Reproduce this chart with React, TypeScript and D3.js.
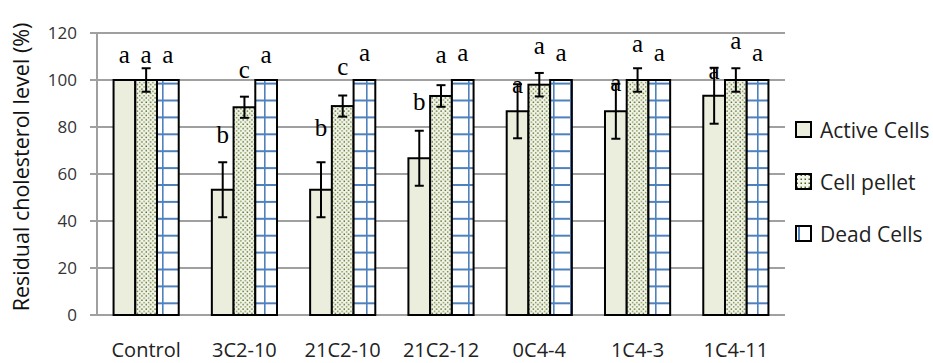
import React from 'react';
import * as d3 from 'd3';

const categories = ['Control', '3C2-10', '21C2-10', '21C2-12', '0C4-4', '1C4-3', '1C4-11'];
const seriesNames = ['Active Cells', 'Cell pellet', 'Dead Cells'];
const activeCells = [100, 53.3, 53.3, 66.7, 86.7, 86.7, 93.3];
const activeErr = [0, 11.7, 11.7, 11.7, 11.5, 11.7, 11.9];
const cellPellet = [100, 88.4, 88.9, 93.2, 98.0, 100, 100];
const pelletErr = [5, 4.5, 4.5, 4.6, 5, 5, 5];
const deadCells = [100, 100, 100, 100, 100, 100, 100];
const deadErr = [0, 0, 0, 0, 0, 0, 0];
const activeLetters = ['a', 'b', 'b', 'b', 'a', 'a', 'a'];
const pelletLetters = ['a', 'c', 'c', 'a', 'a', 'a', 'a'];
const deadLetters = ['a', 'a', 'a', 'a', 'a', 'a', 'a'];
// letter heights in data units (%)
const activeLetterAt = [109.8, 75.7, 78.7, 90, 96.9, 97.9, 102.8];
const pelletLetterAt = [109.8, 103.4, 104.7, 110, 113.5, 114.5, 115.6];
const deadLetterAt = [109.8, 109.8, 110.6, 110.6, 110.6, 110.6, 110.6];
const yTicks = [0, 20, 40, 60, 80, 100, 120];

const W = 933, H = 363;
const M = { left: 97, right: 785, top: 33, bottom: 315 };
const SANS = '"Open Sans", "Noto Sans", sans-serif';
const SERIF = '"Liberation Serif", "DejaVu Serif", serif';

export default function App() {
  const y = d3.scaleLinear().domain([0, 120]).range([M.bottom, M.top]);
  const x = d3.scaleBand().domain(categories).range([M.left, M.right]).paddingInner(0).paddingOuter(0);
  const bw = x.bandwidth() * 0.221;
  const sub = d3.scaleBand().domain(seriesNames).range([-1.5 * bw, 1.5 * bw]);

  const series = [
    { name: seriesNames[0], vals: activeCells, err: activeErr, letters: activeLetters, at: activeLetterAt, fill: '#EBEEDC' },
    { name: seriesNames[1], vals: cellPellet, err: pelletErr, letters: pelletLetters, at: pelletLetterAt, fill: 'url(#dots)' },
    { name: seriesNames[2], vals: deadCells, err: deadErr, letters: deadLetters, at: deadLetterAt, fill: 'url(#grid)' },
  ];

  const legendFill = ['#EBEEDC', 'url(#dotsL)', '#fff'];

  return (
    <svg width={W} height={H} style={{ position: 'absolute', left: 0, top: 0, background: '#fff' }}>
      <defs>
        <pattern id="dots" patternUnits="userSpaceOnUse" width={4.4} height={4.4}>
          <rect width={4.4} height={4.4} fill="#F3F5EA" />
          <rect x={0.4} y={0.4} width={1.4} height={1.4} fill="#4F6228" />
          <rect x={2.6} y={2.6} width={1.4} height={1.4} fill="#76923C" />
        </pattern>
        <pattern id="dotsL" patternUnits="userSpaceOnUse" width={4} height={4}>
          <rect width={4} height={4} fill="#F3F5EA" />
          <rect x={0.5} y={0.5} width={1.5} height={1.5} fill="#4F6228" />
        </pattern>
        <pattern id="grid" patternUnits="userSpaceOnUse" width={17} height={16.9} x={9} y={15}>
          <rect width={17} height={16.9} fill="#fff" />
          <rect x={0} y={0} width={17} height={2} fill="#4F81BD" />
          <rect x={0} y={0} width={1.6} height={16.9} fill="#4F81BD" />
        </pattern>
      </defs>

      {/* gridlines */}
      {yTicks.map(t => (
        <line key={t} x1={M.left - 7} x2={M.right} y1={y(t)} y2={y(t)} stroke="#A0A0A0" strokeWidth={2} />
      ))}
      <line x1={M.left} x2={M.left} y1={M.top} y2={M.bottom} stroke="#A0A0A0" strokeWidth={2} />

      {/* tick labels */}
      {yTicks.map(t => (
        <text key={t} x={77} y={y(t) + 6} textAnchor="end" fontFamily={SANS} fontSize={17} fill="#333">{t}</text>
      ))}

      {/* y title */}
      <text transform={`translate(28.5,${(M.top + M.bottom) / 2 - 7}) rotate(-90)`} textAnchor="middle" fontFamily={SANS} fontSize={21.5} fill="#111">
        Residual cholesterol level (%)
      </text>

      {/* bars */}
      {series.map(s => (
        <g key={s.name}>
          {categories.map((c, i) => {
            const cx = x(c)! + x.bandwidth() / 2 + sub(s.name)!;
            return (
              <rect key={c} x={cx} y={y(s.vals[i])} width={sub.bandwidth()} height={y(0) - y(s.vals[i])}
                fill={s.fill} stroke="#000" strokeWidth={2} />
            );
          })}
        </g>
      ))}

      {/* error bars */}
      {series.map(s => (
        <g key={s.name + 'e'} stroke="#000" strokeWidth={2}>
          {categories.map((c, i) => {
            if (!s.err[i]) return null;
            const cx = x(c)! + x.bandwidth() / 2 + sub(s.name)! + sub.bandwidth() / 2;
            const y1 = y(s.vals[i] + s.err[i]);
            const y2 = y(s.vals[i] - s.err[i]);
            return (
              <g key={c}>
                <line x1={cx} x2={cx} y1={y1} y2={y2} />
                <line x1={cx - 4.5} x2={cx + 4.5} y1={y1} y2={y1} />
                <line x1={cx - 4.5} x2={cx + 4.5} y1={y2} y2={y2} />
              </g>
            );
          })}
        </g>
      ))}

      {/* letters */}
      {series.map(s => (
        <g key={s.name + 'l'}>
          {categories.map((c, i) => {
            const cx = x(c)! + x.bandwidth() / 2 + sub(s.name)! + sub.bandwidth() / 2;
            return (
              <text key={c} x={cx} y={y(s.at[i]) + 6} textAnchor="middle" fontFamily={SERIF} fontSize={25} fill="#000">
                {s.letters[i]}
              </text>
            );
          })}
        </g>
      ))}

      {/* x labels */}
      {categories.map(c => (
        <text key={c} x={x(c)! + x.bandwidth() / 2} y={357} textAnchor="middle" fontFamily={SANS} fontSize={20} fill="#222">{c}</text>
      ))}

      {/* legend */}
      {seriesNames.map((n, i) => (
        <g key={n} transform={`translate(796,${122 + i * 52})`}>
          <rect x={0} y={0} width={15} height={15} fill={legendFill[i]} stroke="#000" strokeWidth={2} />
          {i === 2 && <line x1={3} x2={3} y1={1} y2={14} stroke="#4F81BD" strokeWidth={2} />}
          <text x={24} y={15.5} fontFamily={SANS} fontSize={21} fill="#222">{n}</text>
        </g>
      ))}
    </svg>
  );
}
